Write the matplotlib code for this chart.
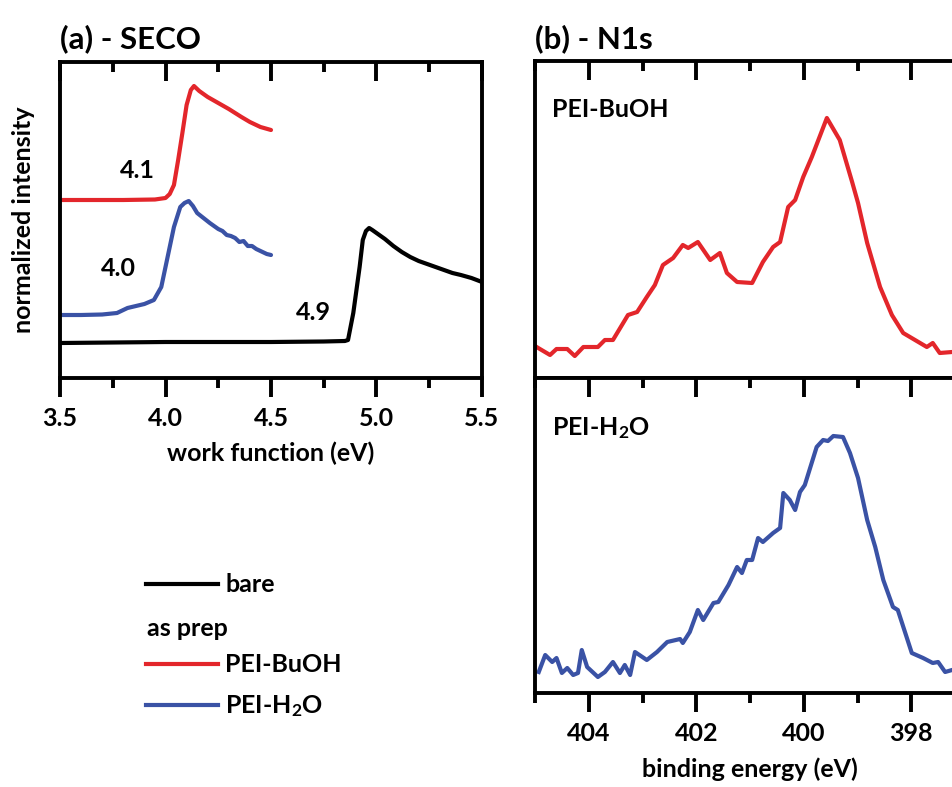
import numpy as np
import matplotlib
matplotlib.use("Agg")
from matplotlib import pyplot as plt
from matplotlib.lines import Line2D
from matplotlib.ticker import MultipleLocator, FormatStrFormatter

LW = 3.0   # curve width
SP = 2.8   # frame / tick width
FS = 18

plt.rcParams['font.family'] = ['Lato', 'DejaVu Sans']
plt.rcParams['font.weight'] = 'bold'
plt.rcParams['axes.labelweight'] = 'bold'
plt.rcParams['mathtext.fontset'] = 'custom'
plt.rcParams['mathtext.rm'] = 'Lato:bold'
plt.rcParams['mathtext.default'] = 'rm'
plt.rcParams['axes.linewidth'] = SP
plt.rcParams['xtick.labelsize'] = FS

RED = '#e3262b'
BLUE = '#3a52a5'

# (a) SECO, work function (eV) vs intensity (arb.)
wf_bare = [3.5, 3.75, 4.0, 4.25, 4.5, 4.75, 4.85, 4.865, 4.89, 4.92, 4.935, 4.95, 4.965,
           4.98, 5.0, 5.04, 5.08, 5.12, 5.16, 5.2, 5.24, 5.28, 5.32, 5.36, 5.4, 5.45, 5.5]
int_bare = [35, 35.5, 36, 36, 36, 36.5, 37, 38, 65, 111, 138, 147, 150,
            148, 145, 139, 132, 126, 121, 117, 114, 111, 108, 105, 103, 100, 96]

wf_buoh = [3.5, 3.8, 3.95, 4.0, 4.02, 4.04, 4.06, 4.08, 4.10, 4.12, 4.135, 4.16, 4.2,
           4.25, 4.3, 4.36, 4.4, 4.45, 4.5]
int_buoh = [178, 178, 178.5, 180, 184, 193, 218, 245, 273, 288, 292, 287, 281,
            275, 269, 261, 256, 251, 248]

wf_h2o = [3.5, 3.6, 3.7, 3.77, 3.82, 3.86, 3.90, 3.945, 3.98, 4.01, 4.04, 4.07, 4.09,
          4.11, 4.13, 4.15, 4.18, 4.21, 4.25, 4.27, 4.29, 4.31, 4.33, 4.35, 4.37, 4.39,
          4.41, 4.43, 4.46, 4.48, 4.5]
int_h2o = [63, 63, 63.5, 65, 70, 72, 74, 78, 91, 121, 151, 171, 175,
           177, 172, 165, 160, 155, 149, 147, 143, 142, 140, 136, 137, 132,
           132, 129, 126, 124, 123]

# (b) N1s, binding energy (eV) vs intensity (arb.)
be_buoh = [405.0, 404.94, 404.72, 404.6, 404.4, 404.26, 404.1, 403.83, 403.7, 403.55, 403.27,
           403.1, 402.92, 402.77, 402.62, 402.43, 402.25, 402.15, 401.97, 401.74, 401.56,
           401.43, 401.24, 400.96, 400.76, 400.57, 400.44, 400.29, 400.16, 400.01, 399.85,
           399.57, 399.33, 399.1, 398.99, 398.82, 398.58, 398.36, 398.15, 397.93, 397.71,
           397.6, 397.47, 397.24]
n1s_buoh = [32, 30, 23, 29, 29, 22, 31, 31, 38, 38, 63,
            66, 81, 93, 113, 120, 133, 130, 136, 118, 125,
            105, 96, 95, 116, 131, 136, 171, 178, 201, 221,
            260, 238, 196, 175, 135, 91, 63, 45, 38, 31,
            35, 25, 26]

be_h2o = [404.93, 404.81, 404.68, 404.6, 404.5, 404.4, 404.29, 404.2, 404.13, 404.03,
          403.83, 403.7, 403.55, 403.42, 403.33, 403.23, 403.14, 402.92, 402.73, 402.54,
          402.3, 402.25, 402.12, 401.97, 401.87, 401.68, 401.59, 401.4, 401.24, 401.15,
          401.06, 400.96, 400.85, 400.76, 400.57, 400.44, 400.38, 400.26, 400.16, 400.07,
          399.98, 399.76, 399.64, 399.55, 399.45, 399.27, 399.14, 398.99, 398.82, 398.67,
          398.52, 398.34, 398.25, 397.99, 397.78, 397.6, 397.5, 397.37, 397.24]
n1s_h2o = [21, 38, 31, 35, 20, 25, 18, 20, 43, 26,
           16, 21, 31, 20, 28, 18, 41, 33, 41, 51,
           54, 50, 61, 83, 73, 90, 91, 108, 126, 120,
           133, 133, 155, 151, 160, 165, 200, 193, 183, 201,
           208, 246, 253, 252, 257, 256, 240, 215, 173, 146,
           113, 86, 83, 40, 35, 30, 31, 21, 23]

W, H = 953, 787
fig = plt.figure(figsize=(W / 100, H / 100), dpi=100)

def box(l, t, r, b):
    return [l / W, 1 - b / H, (r - l) / W, (b - t) / H]

TICK_SIGN = {('bottom', 'out'): -1, ('bottom', 'in'): 1,
             ('top', 'out'): 1, ('top', 'in'): -1}

def draw_ticks(ax, side, direction):
    # Origin style ticks: short vertical lines at the locator positions
    h = ax.get_position().height * H
    lo, hi = sorted(ax.get_xlim())
    y0 = 0.0 if side == 'bottom' else 1.0
    sign = TICK_SIGN[(side, direction)]
    for locs, length in [(ax.xaxis.get_majorticklocs(), 19), (ax.xaxis.get_minorticklocs(), 10)]:
        locs = [x for x in locs if lo - 1e-9 <= x <= hi + 1e-9]
        ax.vlines(locs, y0, y0 + sign * length / h, colors='black', linewidth=SP,
                  transform=ax.get_xaxis_transform(), clip_on=False, zorder=5)

# ---- panel (a)
ax_a = fig.add_axes(box(60, 62, 482, 378))
ax_a.plot(wf_bare, int_bare, color='black', lw=LW, solid_capstyle='round')
ax_a.plot(wf_buoh, int_buoh, color=RED, lw=LW, solid_capstyle='round')
ax_a.plot(wf_h2o, int_h2o, color=BLUE, lw=LW, solid_capstyle='round')
ax_a.set_xlim(3.5, 5.5)
ax_a.set_ylim(0, 316)
ax_a.set_yticks([])
ax_a.xaxis.set_major_locator(MultipleLocator(0.5))
ax_a.xaxis.set_minor_locator(MultipleLocator(0.25))
ax_a.xaxis.set_major_formatter(FormatStrFormatter('%.1f'))
ax_a.tick_params(which='both', length=0, pad=21)
draw_ticks(ax_a, 'bottom', 'out')
draw_ticks(ax_a, 'top', 'in')
ax_a.set_xlim(3.5, 5.5)
ax_a.set_ylim(0, 316)
ax_a.set_xlabel('work function (eV)', fontsize=FS)
ax_a.xaxis.set_label_coords(0.5, -0.2)
ax_a.set_ylabel('normalized intensity', fontsize=FS)
ax_a.yaxis.set_label_coords(-0.06, 0.5)
ax_a.text(3.865, 208, '4.1', fontsize=FS, ha='center', va='center')
ax_a.text(3.775, 110, '4.0', fontsize=FS, ha='center', va='center')
ax_a.text(4.70, 65, '4.9', fontsize=FS, ha='center', va='center')

# ---- panel (b) upper
ax_b1 = fig.add_axes(box(535, 61, 965, 378))
ax_b1.plot(be_buoh, n1s_buoh, color=RED, lw=LW)
ax_b1.set_xlim(405, 397)
ax_b1.set_ylim(0, 317)
ax_b1.set_yticks([])
ax_b1.xaxis.set_major_locator(MultipleLocator(2))
ax_b1.xaxis.set_minor_locator(MultipleLocator(1))
ax_b1.tick_params(which='both', length=0, labelbottom=False)
draw_ticks(ax_b1, 'top', 'in')
ax_b1.set_xlim(405, 397)
ax_b1.set_ylim(0, 317)
ax_b1.text(0.04, 0.823, 'PEI-BuOH', transform=ax_b1.transAxes, fontsize=FS,
           ha='left', va='baseline')

# ---- panel (b) lower
ax_b2 = fig.add_axes(box(535, 378, 965, 693))
ax_b2.plot(be_h2o, n1s_h2o, color=BLUE, lw=LW)
ax_b2.set_xlim(405, 397)
ax_b2.set_ylim(0, 315)
ax_b2.set_yticks([])
ax_b2.xaxis.set_major_locator(MultipleLocator(2))
ax_b2.xaxis.set_minor_locator(MultipleLocator(1))
ax_b2.tick_params(which='both', length=0, pad=21)
draw_ticks(ax_b2, 'bottom', 'out')
draw_ticks(ax_b2, 'top', 'in')
ax_b2.set_xlim(405, 397)
ax_b2.set_ylim(0, 315)
ax_b2.set_xlabel('binding energy (eV)', fontsize=FS)
ax_b2.xaxis.set_label_coords(0.5, -0.206)
ax_b2.text(0.04, 0.819, 'PEI-H$_2$O', transform=ax_b2.transAxes, fontsize=FS,
           ha='left', va='baseline')

# titles
fig.text(60 / W, 1 - 48 / H, '(a) - SECO', fontsize=22.5, ha='left', va='baseline')
fig.text(535 / W, 1 - 48 / H, '(b) - N1s', fontsize=22.5, ha='left', va='baseline')

# legend
handles = [Line2D([], [], color='black', lw=LW),
           Line2D([], [], color='none', lw=LW),
           Line2D([], [], color=RED, lw=LW),
           Line2D([], [], color=BLUE, lw=LW)]
labels = ['bare', ' ', 'PEI-BuOH', 'PEI-H$_2$O']
fig.legend(handles, labels, loc='upper left', bbox_to_anchor=(129 / W, 1 - 556 / H),
           frameon=False, fontsize=FS, handlelength=2.85, handletextpad=0.3,
           labelspacing=0.68, borderpad=0.2)
fig.text(147 / W, 1 - 628 / H, 'as prep', fontsize=FS, ha='left', va='center')

fig.savefig('out.png', dpi=100)
